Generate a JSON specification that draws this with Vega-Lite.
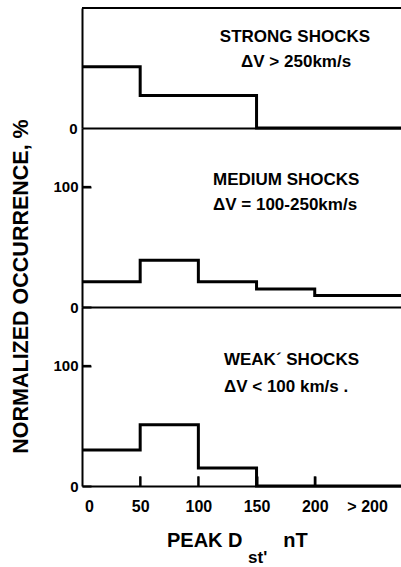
{
  "$schema": "https://vega.github.io/schema/vega-lite/v6.json",
  "padding": {"left": 10, "top": 7, "right": 0, "bottom": 0},
  "background": "white",
  "config": {
    "view": {"stroke": null},
    "font": "Liberation Sans",
    "axis": {
      "domainColor": "black", "domainWidth": 2, "tickColor": "black", "tickWidth": 2, "ticks": true,
      "labelFont": "Liberation Sans", "labelFontSize": 15, "labelFontWeight": "bold", "labelColor": "black",
      "grid": false
    },
    "text": {"font": "Liberation Sans", "fontWeight": "bold", "color": "black"}
  },
  "datasets": {
    "strong": [
      {"dst": 0, "pct": 51}, {"dst": 50, "pct": 27}, {"dst": 150, "pct": 0}, {"dst": 275, "pct": 0}
    ],
    "medium": [
      {"dst": 0, "pct": 21}, {"dst": 50, "pct": 39}, {"dst": 100, "pct": 21}, {"dst": 150, "pct": 15}, {"dst": 200, "pct": 9.5}, {"dst": 275, "pct": 9.5}
    ],
    "weak": [
      {"dst": 0, "pct": 30}, {"dst": 50, "pct": 51}, {"dst": 100, "pct": 15}, {"dst": 150, "pct": 0}, {"dst": 275, "pct": 0}
    ],
    "xticks": [{"v": 50}, {"v": 100}, {"v": 150}, {"v": 200}],
    "one": [{"k": 1}]
  },
  "vconcat": [
    {
      "width": 320, "height": 120,
      "layer": [
        {
          "data": {"name": "strong"},
          "mark": {"type": "line", "interpolate": "step-after", "color": "black", "strokeWidth": 3},
          "encoding": {
            "x": {"field": "dst", "type": "quantitative", "scale": {"domain": [0, 275], "nice": false},
              "axis": {"title": null, "labels": false, "ticks": false}},
            "y": {"field": "pct", "type": "quantitative", "scale": {"domain": [0, 100], "nice": false},
              "axis": {"title": null, "values": [0], "ticks": false, "labelPadding": 5}}
          }
        },
        {
          "data": {"name": "one"},
          "mark": {"type": "rule", "color": "black", "strokeWidth": 2},
          "encoding": {"y": {"datum": 100}}
        },
        {
          "data": {"name": "one"},
          "mark": {"type": "text", "fontSize": 17, "align": "center", "baseline": "middle"},
          "encoding": {"x": {"datum": 183}, "y": {"datum": 76}, "text": {"value": "STRONG SHOCKS"}}
        },
        {
          "data": {"name": "one"},
          "mark": {"type": "text", "fontSize": 17, "align": "center", "baseline": "middle"},
          "encoding": {"x": {"datum": 184}, "y": {"datum": 55}, "text": {"value": "ΔV > 250km/s"}}
        }
      ]
    },
    {
      "width": 320, "height": 179,
      "layer": [
        {
          "data": {"name": "medium"},
          "mark": {"type": "line", "interpolate": "step-after", "color": "black", "strokeWidth": 3},
          "encoding": {
            "x": {"field": "dst", "type": "quantitative", "scale": {"domain": [0, 275], "nice": false},
              "axis": {"title": null, "labels": false, "ticks": false}},
            "y": {"field": "pct", "type": "quantitative", "scale": {"domain": [0, 149], "nice": false},
              "axis": {"title": "NORMALIZED OCCURRENCE, %", "values": [0, 100], "tickSize": -9, "labelPadding": 13,
                "titleFont": "Liberation Sans", "titleFontSize": 21.5, "titleFontWeight": "bold", "titleColor": "black",
                "titleX": -61, "titleY": 158, "titleAlign": "center", "titleBaseline": "middle", "titleAngle": -90}}
          }
        },
        {
          "data": {"name": "one"},
          "mark": {"type": "rule", "color": "black", "strokeWidth": 2},
          "encoding": {"x": {"datum": 0}, "x2": {"datum": 7.7}, "y": {"datum": 100}}
        },
        {
          "data": {"name": "one"},
          "mark": {"type": "text", "fontSize": 17, "align": "left", "baseline": "middle"},
          "encoding": {"x": {"datum": 112.6}, "y": {"datum": 106}, "text": {"value": "MEDIUM SHOCKS"}}
        },
        {
          "data": {"name": "one"},
          "mark": {"type": "text", "fontSize": 17, "align": "left", "baseline": "middle"},
          "encoding": {"x": {"datum": 112.6}, "y": {"datum": 85}, "text": {"value": "ΔV = 100-250km/s"}}
        }
      ]
    },
    {
      "width": 320, "height": 179,
      "layer": [
        {
          "data": {"name": "weak"},
          "mark": {"type": "line", "interpolate": "step-after", "color": "black", "strokeWidth": 3},
          "encoding": {
            "x": {"field": "dst", "type": "quantitative", "scale": {"domain": [0, 275], "nice": false},
              "axis": {"title": null, "values": [6, 50, 100, 150, 200, 245], "tickSize": -10, "labelPadding": 22,
                "tickOpacity": {"condition": {"test": "datum.value == 6 || datum.value == 245", "value": 0}, "value": 1},
                "labelExpr": "datum.value == 6 ? '0' : datum.value == 245 ? '> 200' : datum.label",
                "labelFontSize": 16}},
            "y": {"field": "pct", "type": "quantitative", "scale": {"domain": [0, 149], "nice": false},
              "axis": {"title": null, "values": [0, 100], "tickSize": -9, "labelPadding": 13}}
          }
        },
        {
          "data": {"name": "one"},
          "mark": {"type": "rule", "color": "black", "strokeWidth": 2},
          "encoding": {"x": {"datum": 0}, "x2": {"datum": 7.7}, "y": {"datum": 100}}
        },
        {
          "data": {"name": "xticks"},
          "mark": {"type": "rule", "color": "black", "strokeWidth": 2},
          "encoding": {"x": {"field": "v", "type": "quantitative"}, "y": {"datum": 0}, "y2": {"datum": 8}}
        },
        {
          "data": {"name": "one"},
          "mark": {"type": "text", "fontSize": 17, "align": "left", "baseline": "middle"},
          "encoding": {"x": {"datum": 122}, "y": {"datum": 105}, "text": {"value": "WEAK´ SHOCKS"}}
        },
        {
          "data": {"name": "one"},
          "mark": {"type": "text", "fontSize": 17, "align": "left", "baseline": "middle"},
          "encoding": {"x": {"datum": 122}, "y": {"datum": 82}, "text": {"value": "ΔV < 100 km/s ."}}
        },
        {
          "data": {"name": "one"},
          "mark": {"type": "text", "fontSize": 20, "align": "left", "baseline": "alphabetic"},
          "encoding": {"x": {"datum": 73}, "y": {"datum": -51}, "text": {"value": "PEAK D"}}
        },
        {
          "data": {"name": "one"},
          "mark": {"type": "text", "fontSize": 20, "align": "left", "baseline": "alphabetic"},
          "encoding": {"x": {"datum": 173}, "y": {"datum": -51}, "text": {"value": "nT"}}
        },
        {
          "data": {"name": "one"},
          "mark": {"type": "text", "fontSize": 17, "align": "left", "baseline": "alphabetic"},
          "encoding": {"x": {"datum": 142.7}, "y": {"datum": -64}, "text": {"value": "st'"}}
        }
      ]
    }
  ],
  "spacing": 0,
  "bounds": "flush"
}
